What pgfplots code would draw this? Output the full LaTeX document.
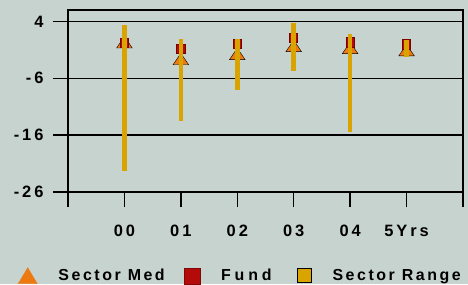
\documentclass[border=0pt]{standalone}
\usepackage{fontspec}
\setmainfont{Liberation Sans}
\newfontfamily\tickfont{Liberation Sans Bold}[LetterSpace=18]
\newfontfamily\legfont{Liberation Sans Bold}[LetterSpace=16]
\newfontfamily\legfontwide{Liberation Sans Bold}[LetterSpace=24]
\usepackage{pgfplots}
\pgfplotsset{compat=1.18}
\definecolor{bgc}{HTML}{C7D3CF}
\definecolor{gold}{HTML}{D9A300}
\definecolor{med}{HTML}{EC7A10}
\definecolor{fundred}{HTML}{B40A0A}
\definecolor{funddark}{HTML}{780000}
\begin{document}
\begin{tikzpicture}[x=1bp,y=1bp]
\fill[bgc] (0,0) rectangle (468,284);
\useasboundingbox (0,0) rectangle (468,284);
\begin{axis}[
  at={(68bp,92bp)}, anchor=south west,
  scale only axis, width=395bp, height=182bp,
  xmin=0, xmax=7, ymin=-26, ymax=6,
  xtick={0,1,2,3,4,5,6,7}, xticklabels={,00,01,02,03,04,5Yrs,},
  ytick={-26,-16,-6,4}, yticklabels={-26,-16,-6,4},
  xtick pos=left, ytick pos=left,
  tick align=outside, major tick length=15bp,
  ymajorgrids, grid style={black, line width=1.4bp},
  axis line style={black, line width=1.4bp},
  every tick/.style={black, line width=1.4bp},
  ticklabel style={font=\tickfont\fontsize{16.5}{16}\selectfont},
  xticklabel style={yshift=-14bp, text height=12bp, text depth=2bp},
  yticklabel style={xshift=-6bp},
  unbounded coords=jump,
  clip=false, clip marker paths=true,
  legend columns=3,
  legend style={at={(axis description cs:-0.127,-0.46)}, anchor=west,
    draw=none, fill=none, inner sep=0pt,
    font=\legfont\fontsize{16}{16}\selectfont,
    /tikz/every odd column/.append style={column sep=19bp},
    /tikz/every even column/.append style={column sep=17bp}},
  legend cell align=left,
]
\addplot[only marks, mark=triangle*, mark size=9bp,
  mark options={fill=med, draw=none, yscale=0.85},
  legend image code/.code={\fill[med] (0bp,-8bp) -- (19bp,-8bp) -- (9.5bp,8bp) -- cycle;}]
  coordinates {(1,0.0) (2,-2.95) (3,-2.05) (4,-0.65) (5,-1.0) (6,-1.4)};
\addlegendentry{Sector Med}
\addplot[only marks, mark=square*, mark size=4.5bp,
  mark options={fill=fundred, draw=funddark, line width=0.8bp, xscale=0.9, yscale=1.05},
  legend image code/.code={\filldraw[fill=fundred, draw=fundred!70!black] (1bp,-8bp) rectangle (17bp,8bp);}]
  coordinates {(1,0.2) (2,-0.85) (3,0.0) (4,1.1) (5,0.3) (6,-0.05)};
\addlegendentry{{\legfontwide\fontsize{16}{16}\selectfont Fund}\rule{6bp}{0pt}}
\addplot[gold, line width=4.5bp,
  legend image code/.code={\filldraw[fill=gold, draw=black, line width=1bp] (1bp,-7bp) rectangle (15bp,7bp);}]
  coordinates {(1,3.3) (1,-22.3) (1,nan) (2,0.9) (2,-13.5) (2,nan) (3,0.9) (3,-8.1) (3,nan)
               (4,3.8) (4,-4.7) (4,nan) (5,1.75) (5,-15.4) (5,nan) (6,0.75) (6,-2.25)};
\addlegendentry{Sector Range}
\end{axis}
\end{tikzpicture}
\end{document}
